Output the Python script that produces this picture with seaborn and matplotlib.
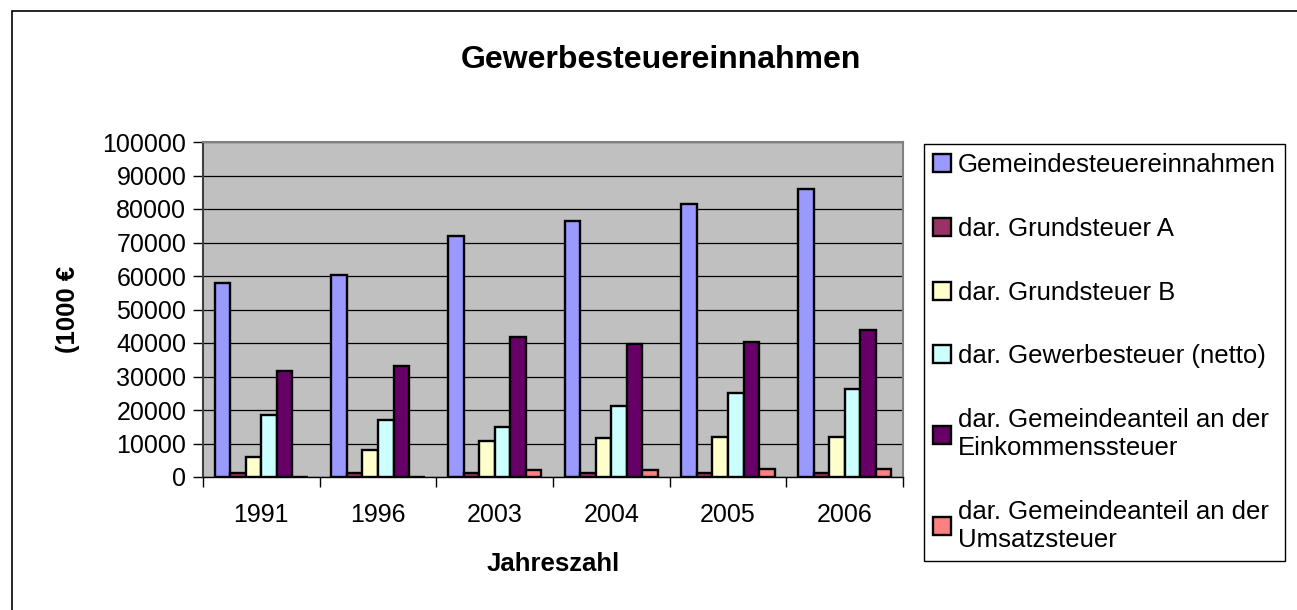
import numpy as np
import pandas as pd
import seaborn as sns
import matplotlib.pyplot as plt
from matplotlib.patches import Rectangle

# --- Data (in 1000 EUR) ---
years = ["1991", "1996", "2003", "2004", "2005", "2006"]

series_names = [
    "Gemeindesteuereinnahmen",
    "dar. Grundsteuer A",
    "dar. Grundsteuer B",
    "dar. Gewerbesteuer (netto)",
    "dar. Gemeindeanteil an der\nEinkommenssteuer",
    "dar. Gemeindeanteil an der\nUmsatzsteuer",
]

gemeindesteuer = [57800, 60300, 71800, 76500, 81400, 86100]
grundsteuer_a = [1200, 1200, 1200, 1200, 1200, 1200]
grundsteuer_b = [6000, 8200, 10800, 11600, 11800, 11800]
gewerbesteuer = [18400, 17100, 15000, 21100, 25200, 26400]
einkommensteuer = [31700, 33200, 41700, 39600, 40300, 43900]
umsatzsteuer = [0, 0, 2200, 2200, 2400, 2300]

colors = ["#9999FF", "#993366", "#FFFFCC", "#CCFFFF", "#660066", "#FF8080"]


def build_frame():
    """
    Put the series into long form for seaborn.
    """
    values = [gemeindesteuer, grundsteuer_a, grundsteuer_b,
              gewerbesteuer, einkommensteuer, umsatzsteuer]
    rows = []
    for name, vals in zip(series_names, values):
        for year, v in zip(years, vals):
            rows.append({"Jahr": year, "Reihe": name, "Wert": v})
    return pd.DataFrame(rows)


def main():
    df = build_frame()

    plt.rcParams['font.family'] = ['Liberation Sans', 'DejaVu Sans']

    fig = plt.figure(figsize=(12.97, 6.10), dpi=100)
    ax = fig.add_axes([203 / 1297, 1 - 477 / 610, 700 / 1297, 335 / 610])

    sns.barplot(data=df, x="Jahr", y="Wert", hue="Reihe", order=years,
                hue_order=series_names, palette=colors, saturation=1,
                edgecolor="black", linewidth=1.7, width=0.8, ax=ax)

    # plot area styling
    ax.set_facecolor("#C0C0C0")
    ax.set_ylim(0, 100000)
    ax.set_xlim(-0.5, len(years) - 0.5)
    ax.set_yticks(np.arange(0, 100001, 10000))
    ax.yaxis.grid(True, color="black", linewidth=0.9)
    ax.set_axisbelow(True)
    for side in ["top", "right"]:
        ax.spines[side].set_color("#808080")
        ax.spines[side].set_linewidth(1.5)
    ax.spines["left"].set_color("#404040")
    ax.spines["left"].set_linewidth(1.5)
    ax.spines["bottom"].set_color("black")
    ax.spines["bottom"].set_linewidth(1.0)

    ax.tick_params(axis="y", labelsize=18, length=7, width=1, pad=5)
    ax.tick_params(axis="x", which="major", labelsize=18, length=0, pad=19)
    ax.set_xticks(np.arange(-0.5, len(years), 1), minor=True)
    ax.tick_params(axis="x", which="minor", length=7, width=1)

    ax.set_xlabel("Jahreszahl", fontsize=18.5, fontweight="bold")
    ax.xaxis.set_label_coords(0.5, -0.225)
    ax.set_ylabel("(1000 €", fontsize=18.5, fontweight="bold")
    ax.yaxis.set_label_coords(-0.176, 0.5)

    # title
    fig.text(661 / 1297, 1 - 60 / 610, "Gewerbesteuereinnahmen",
             fontsize=23, fontweight="bold", ha="center", va="center")

    # legend on the right
    handles, labels = ax.get_legend_handles_labels()
    ax.get_legend().remove()
    leg = fig.legend(handles, labels, loc="upper left",
                     bbox_to_anchor=(924 / 1297, 1 - 144 / 610),
                     fontsize=18.5, frameon=True, fancybox=False,
                     edgecolor="black", framealpha=1, borderpad=0.35,
                     handlelength=0.7, handleheight=0.7, handletextpad=0.28,
                     labelspacing=1.55, borderaxespad=0)
    leg.get_frame().set_linewidth(1.0)

    # outer chart border (right and bottom edges lie outside the image)
    fig.patches.append(Rectangle((12 / 1297, -0.05), 1.05, 1 - 11 / 610 + 0.05,
                                 transform=fig.transFigure, fill=False,
                                 edgecolor="black", linewidth=1.2))

    plt.savefig("out.png", dpi=100)


if __name__ == "__main__":
    main()
